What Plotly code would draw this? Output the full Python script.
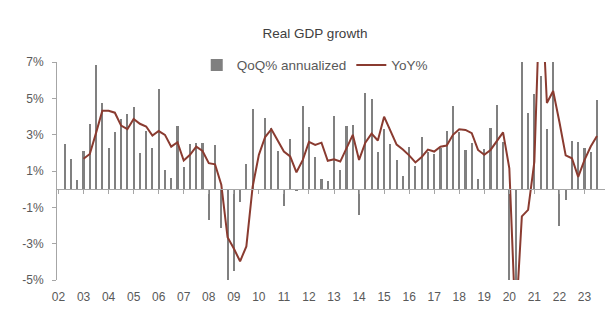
import plotly.graph_objects as go

# ---- data ----
quarters = (["2002Q2", "2002Q3", "2002Q4"] +
            [f"{y}Q{q}" for y in range(2003, 2023) for q in range(1, 5)] +
            ["2023Q1", "2023Q2", "2023Q3"])

qoq_annualized = [
    2.49, 1.67, 0.51,                 # 2002 Q2-Q4
    2.10, 3.59, 6.83, 4.73,           # 2003
    2.25, 3.15, 3.86, 4.14,           # 2004
    4.52, 2.00, 3.20, 2.27,           # 2005
    5.51, 1.06, 0.62, 3.48,           # 2006
    1.23, 2.49, 2.55, 2.55,           # 2007
    -1.72, 2.44, -2.16, -8.50,        # 2008
    -4.52, -0.71, 1.41, 4.41,         # 2009
    0.00, 3.94, 3.39, 2.10,           # 2010
    -0.95, 2.77, -0.10, 4.58,         # 2011
    3.44, 1.78, 0.57, 0.46,           # 2012
    4.03, 1.06, 3.48, 3.53,           # 2013
    -1.41, 5.27, 4.96, 2.05,          # 2014
    3.30, 2.49, 1.61, 0.73,           # 2015
    2.33, 1.28, 2.88, 2.07,           # 2016
    1.94, 2.25, 3.20, 4.58,           # 2017
    3.17, 2.16, 2.56, 0.55,           # 2018
    2.20, 3.39, 4.63, 2.58,           # 2019
    -5.50, -28.00, 34.80, 4.21,       # 2020
    5.24, 6.25, 3.31, 7.00,           # 2021
    -2.00, -0.62, 2.66, 2.58,         # 2022
    2.27, 2.05, 4.90,                 # 2023 Q1-Q3
]

yoy = [
    None, None, None,                 # 2002 Q2-Q4
    1.67, 1.94, 3.10, 4.32,           # 2003
    4.32, 4.21, 3.50, 3.30,           # 2004
    3.87, 3.60, 3.45, 2.95,           # 2005
    3.20, 2.99, 2.34, 2.58,           # 2006
    1.58, 1.89, 2.34, 2.10,           # 2007
    1.43, 1.37, 0.24, -2.65,          # 2008
    -3.27, -3.97, -3.15, 0.12,        # 2009
    1.89, 2.87, 3.30, 2.66,           # 2010
    2.07, 1.80, 0.93, 1.60,           # 2011
    2.60, 2.44, 2.56, 1.56,           # 2012
    1.65, 1.52, 2.22, 2.99,           # 2013
    1.61, 2.56, 3.06, 2.68,           # 2014
    3.99, 3.22, 2.45, 2.18,           # 2015
    1.86, 1.47, 1.77, 2.18,           # 2016
    2.07, 2.34, 2.40, 2.99,           # 2017
    3.30, 3.26, 3.08, 2.16,           # 2018
    1.89, 2.16, 2.62, 3.13,           # 2019
    1.15, -7.50, -1.50, -1.14,        # 2020
    1.52, 12.00, 4.74, 5.40,          # 2021
    3.70, 1.86, 1.70, 0.68,           # 2022
    1.60, 2.35, 2.93,                 # 2023 Q1-Q3
]

year_ticks = list(range(2002, 2024))
year_labels = [f"{y % 100:02d}" for y in year_ticks]
y_ticks = [-5, -3, -1, 1, 3, 5, 7]
y_labels = [f"{v}%" for v in y_ticks]

# quarter label -> fractional year position on a numeric axis
xpos = [int(q[:4]) + (int(q[-1]) - 1) / 4 for q in quarters]

BAR = "#808080"
LINE = "#8a3b30"
AXIS = "#a6a6a6"
TXT = "#595959"
FONT = "Liberation Sans"
XR = [2001.94, 2023.82]

fig = go.Figure()
fig.add_trace(go.Bar(
    x=xpos, y=qoq_annualized, name="QoQ% annualized",
    marker=dict(color=BAR, line=dict(width=0)), width=0.085,
    xaxis="x", yaxis="y",
))
fig.add_trace(go.Scatter(
    x=xpos, y=yoy, name="YoY%", mode="lines",
    line=dict(color=LINE, width=2), connectgaps=False,
    xaxis="x2", yaxis="y",
))

fig.update_layout(
    width=611, height=323,
    margin=dict(l=57, r=6, t=62, b=43),
    paper_bgcolor="white", plot_bgcolor="white",
    font=dict(family=FONT, color=TXT, size=12),
    title=dict(text="Real GDP growth", x=0.4708, xref="paper", xanchor="center",
               y=1 - 33 / 323, yref="container", yanchor="middle",
               font=dict(family=FONT, size=13.5, color="#404040")),
    showlegend=True,
    legend=dict(orientation="h", x=0.255, xanchor="left", y=0.985, yanchor="middle",
                bgcolor="rgba(0,0,0,0)", font=dict(size=13.5, color=TXT),
                itemwidth=30, tracegroupgap=0),
    bargap=0,
    xaxis=dict(range=XR, tickmode="array", tickvals=year_ticks, ticktext=year_labels,
               showline=False, showgrid=False, zeroline=False, ticks="",
               ticklabelstandoff=8, tickfont=dict(size=12, color=TXT), fixedrange=True),
    xaxis2=dict(range=XR, overlaying="x", anchor="free", position=5 / 12, side="bottom",
                tickmode="array", tickvals=year_ticks, showticklabels=False,
                ticks="outside", ticklen=4, tickcolor=AXIS, tickwidth=1,
                showline=True, linecolor=AXIS, linewidth=1,
                showgrid=False, zeroline=False, fixedrange=True),
    yaxis=dict(range=[-5, 7], tickmode="array", tickvals=y_ticks, ticktext=y_labels,
               showline=True, linecolor=AXIS, linewidth=1, ticks="outside", ticklen=4,
               tickcolor=AXIS, showgrid=False, zeroline=False,
               ticklabelstandoff=6, tickfont=dict(size=12, color=TXT), fixedrange=True),
)

fig.write_html("out.html")
